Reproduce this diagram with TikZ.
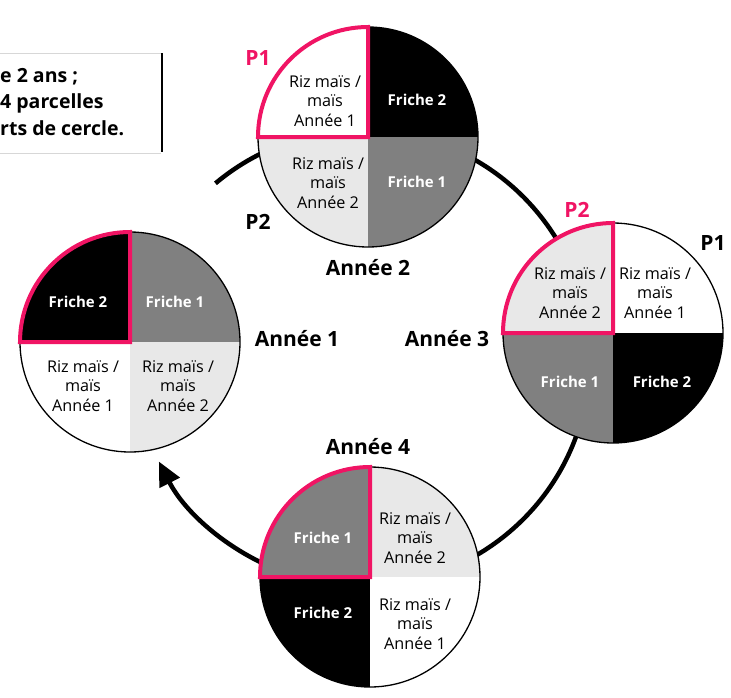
\documentclass[tikz,border=0pt]{standalone}
\usepackage{fontspec}
\setmainfont{Open Sans}
\usetikzlibrary{arrows.meta}
\definecolor{pinkP}{RGB}{240,20,100}
\definecolor{friA}{RGB}{128,128,128}
\definecolor{rizB}{RGB}{232,232,232}
\definecolor{boxgray}{RGB}{215,215,215}
\tikzset{
  ring/.style={line width=4.5pt, -{Triangle[length=24pt,width=22pt]}},
  rim/.style={draw=black, line width=1.3pt},
  pinkq/.style={draw=pinkP, line width=4pt, line join=miter},
  riz/.style={align=center, font=\fontsize{16.2}{19.8}\selectfont, text=black, inner sep=0pt},
  fri/.style={font=\fontsize{15}{18}\selectfont\bfseries, text=white, inner sep=0pt},
  ann/.style={font=\fontsize{21}{24}\selectfont\bfseries, inner sep=0pt},
  boxtxt/.style={font=\fontsize{19.5}{22}\selectfont\bfseries, inner sep=0pt, anchor=base west},
}
\newcommand\sect[4]{\fill[#4] (#1) -- ++(#2:110) arc[start angle=#2,end angle=#3,radius=110] -- cycle;}
\begin{document}
\begin{tikzpicture}[x=1pt,y=1pt]
\useasboundingbox (0,0) rectangle (731,-697);
% partial text box
\draw[boxgray, line width=0.8pt] (0,-53) -- (161,-53);
\draw[boxgray, line width=0.8pt] (0,-153) -- (161,-153);
\draw[black, line width=1.6pt] (162,-53) -- (162,-152);
\node[boxtxt] (bt1) at (0,-82) {e 2 ans ;};
\node[boxtxt] (bt2) at (0,-108) {4 parcelles};
\node[boxtxt] (bt3) at (0,-135) {rts de cercle.};
% ring
\coordinate (ringc) at (362,-358);
\draw[ring] (ringc) ++(130:228) arc[start angle=130, end angle=-153, radius=228];
% centers
\coordinate (c1) at (130,-342);
\coordinate (c2) at (368,-137);
\coordinate (c3) at (613,-333);
\coordinate (c4) at (370,-577);
% Annee 2 (top)
\sect{c2}{90}{180}{white}
\sect{c2}{0}{90}{black}
\sect{c2}{180}{270}{rizB}
\sect{c2}{270}{360}{friA}
\draw[rim] (c2) circle[radius=110];
\draw[pinkq] (c2) -- ++(180:110) arc[start angle=180,end angle=90,radius=110] -- cycle;
% Annee 1 (left)
\sect{c1}{90}{180}{black}
\sect{c1}{0}{90}{friA}
\sect{c1}{180}{270}{white}
\sect{c1}{270}{360}{rizB}
\draw[rim] (c1) circle[radius=110];
\draw[pinkq] (c1) -- ++(180:110) arc[start angle=180,end angle=90,radius=110] -- cycle;
% Annee 3 (right)
\sect{c3}{90}{180}{rizB}
\sect{c3}{0}{90}{white}
\sect{c3}{180}{270}{friA}
\sect{c3}{270}{360}{black}
\draw[rim] (c3) circle[radius=110];
\draw[pinkq] (c3) -- ++(180:110) arc[start angle=180,end angle=90,radius=110] -- cycle;
% Annee 4 (bottom)
\sect{c4}{90}{180}{friA}
\sect{c4}{0}{90}{rizB}
\sect{c4}{180}{270}{black}
\sect{c4}{270}{360}{white}
\draw[rim] (c4) circle[radius=110];
\draw[pinkq] (c4) -- ++(180:110) arc[start angle=180,end angle=90,radius=110] -- cycle;
% texts top
\node[riz] (t2a) at (325,-101) {Riz maïs /\\maïs\\Année 1};
\node[fri] (t2b) at (417,-100) {Friche 2};
\node[riz] (t2c) at (328,-183) {Riz maïs /\\maïs\\Année 2};
\node[fri] (t2d) at (417,-182) {Friche 1};
% texts left
\node[fri] (t1a) at (78,-302) {Friche 2};
\node[fri] (t1b) at (175,-302) {Friche 1};
\node[riz] (t1c) at (83,-386) {Riz maïs /\\maïs\\Année 1};
\node[riz] (t1d) at (178,-386) {Riz maïs /\\maïs\\Année 2};
% texts right
\node[riz] (t3a) at (570,-293) {Riz maïs /\\maïs\\Année 2};
\node[riz] (t3b) at (655,-293) {Riz maïs /\\maïs\\Année 1};
\node[fri] (t3c) at (570,-382) {Friche 1};
\node[fri] (t3d) at (662,-382) {Friche 2};
% texts bottom
\node[fri] (t4a) at (323,-538) {Friche 1};
\node[riz] (t4b) at (415,-538) {Riz maïs /\\maïs\\Année 2};
\node[fri] (t4c) at (323,-613) {Friche 2};
\node[riz] (t4d) at (415,-624) {Riz maïs /\\maïs\\Année 1};
% labels
\node[ann, text=pinkP] (p1a) at (258,-58) {P1};
\node[ann] (p2a) at (258,-222) {P2};
\node[ann, text=pinkP] (p2b) at (577,-210) {P2};
\node[ann] (p1b) at (713,-243) {P1};
\node[ann] (a2) at (368,-268) {Année 2};
\node[ann] (a1) at (297,-339) {Année 1};
\node[ann] (a3) at (447,-339) {Année 3};
\node[ann] (a4) at (368,-447) {Année 4};
\end{tikzpicture}
\end{document}
